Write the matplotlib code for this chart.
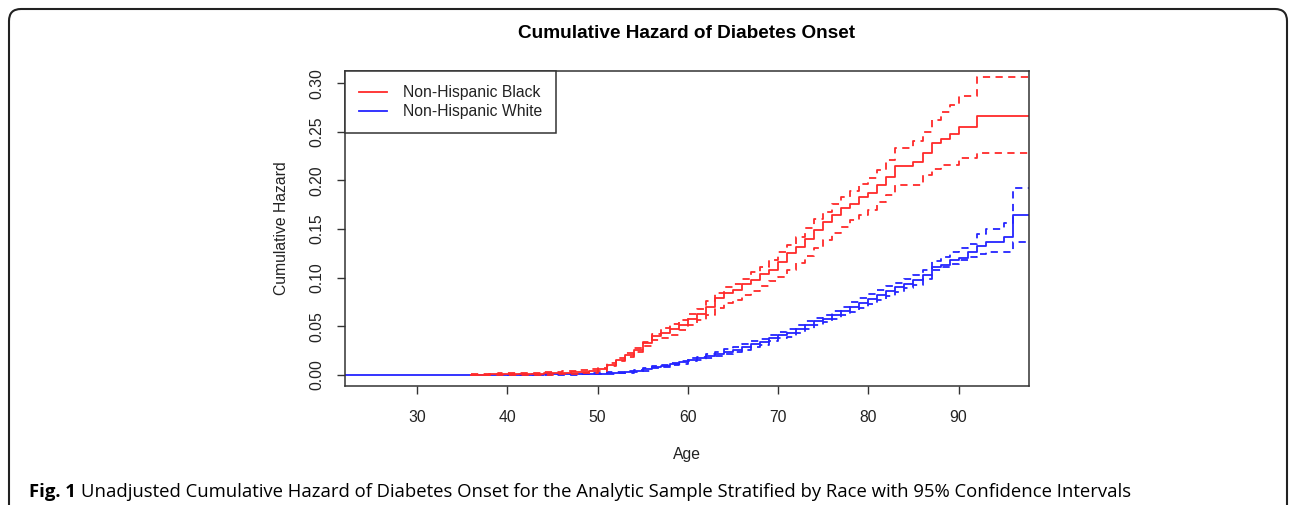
import matplotlib
matplotlib.use("Agg")
import matplotlib.pyplot as plt
from matplotlib.patches import FancyBboxPatch
from matplotlib.transforms import IdentityTransform

# cumulative hazard, one step per year of age
black_age = list(range(36, 93)) + [98]
black_haz = [0.0003, 0.0005, 0.0006, 0.0008, 0.001, 0.001, 0.0012, 0.0015, 0.0018,
             0.002, 0.0025, 0.003, 0.0035, 0.004, 0.006, 0.010, 0.015, 0.021, 0.026,
             0.033, 0.040, 0.043, 0.047, 0.051, 0.058, 0.063, 0.070, 0.079, 0.084,
             0.087, 0.094, 0.098, 0.104, 0.108, 0.116, 0.125, 0.132, 0.140, 0.149,
             0.157, 0.164, 0.172, 0.176, 0.183, 0.187, 0.195, 0.203, 0.215, 0.215,
             0.219, 0.228, 0.238, 0.243, 0.248, 0.255, 0.255, 0.266, 0.266]
black_hi = [0.001, 0.0012, 0.0014, 0.0016, 0.0018, 0.002, 0.0022, 0.0025, 0.003,
            0.0035, 0.004, 0.0045, 0.005, 0.006, 0.007, 0.012, 0.017, 0.023, 0.028,
            0.034, 0.042, 0.048, 0.052, 0.057, 0.063, 0.068, 0.076, 0.084, 0.090,
            0.094, 0.099, 0.106, 0.111, 0.118, 0.126, 0.134, 0.142, 0.151, 0.160,
            0.168, 0.176, 0.183, 0.189, 0.196, 0.202, 0.211, 0.221, 0.233, 0.233,
            0.240, 0.250, 0.262, 0.270, 0.277, 0.287, 0.287, 0.306, 0.306]
black_lo = [0.0, 0.0, 0.0, 0.0001, 0.0002, 0.0002, 0.0003, 0.0004, 0.0005,
            0.001, 0.0012, 0.0015, 0.002, 0.0025, 0.004, 0.009, 0.014, 0.019, 0.024,
            0.030, 0.036, 0.038, 0.041, 0.046, 0.051, 0.057, 0.062, 0.069, 0.074,
            0.077, 0.082, 0.086, 0.091, 0.097, 0.101, 0.108, 0.115, 0.122, 0.131,
            0.139, 0.146, 0.152, 0.159, 0.164, 0.170, 0.178, 0.185, 0.195, 0.195,
            0.195, 0.206, 0.212, 0.216, 0.216, 0.223, 0.223, 0.228, 0.228]

white_age = [20] + list(range(40, 97)) + [98]
white_haz = [0.0, 0.0002, 0.0003, 0.0004, 0.0005, 0.0006, 0.0007, 0.0008, 0.0009,
             0.001, 0.0012, 0.0015, 0.002, 0.0025, 0.003, 0.0044, 0.0058, 0.0079,
             0.0092, 0.0113, 0.013, 0.0154, 0.017, 0.0195, 0.0216, 0.024, 0.026,
             0.029, 0.032, 0.034, 0.038, 0.041, 0.043, 0.047, 0.051, 0.055, 0.058,
             0.062, 0.066, 0.070, 0.074, 0.078, 0.082, 0.086, 0.090, 0.094, 0.098,
             0.103, 0.111, 0.113, 0.118, 0.120, 0.126, 0.133, 0.137, 0.137, 0.1415,
             0.164, 0.164]
white_hi = [0.0, 0.0005, 0.0006, 0.0007, 0.0008, 0.0009, 0.001, 0.0012, 0.0013,
            0.0015, 0.0017, 0.002, 0.0027, 0.0033, 0.004, 0.0055, 0.007, 0.009,
            0.0105, 0.0125, 0.0145, 0.017, 0.019, 0.0215, 0.024, 0.0265, 0.0285,
            0.032, 0.035, 0.037, 0.041, 0.044, 0.047, 0.051, 0.055, 0.059, 0.062,
            0.066, 0.070, 0.075, 0.079, 0.083, 0.087, 0.091, 0.095, 0.099, 0.103,
            0.108, 0.117, 0.121, 0.126, 0.131, 0.135, 0.145, 0.150, 0.150, 0.156,
            0.192, 0.192]
white_lo = [0.0, 0.0, 0.0, 0.0001, 0.0002, 0.0003, 0.0004, 0.0004, 0.0005,
            0.0006, 0.0007, 0.001, 0.0013, 0.0017, 0.002, 0.0033, 0.0046, 0.0068,
            0.0079, 0.010, 0.0115, 0.014, 0.015, 0.0175, 0.0192, 0.0215, 0.0235,
            0.026, 0.029, 0.031, 0.035, 0.038, 0.039, 0.043, 0.047, 0.051, 0.054,
            0.058, 0.062, 0.065, 0.069, 0.073, 0.077, 0.081, 0.085, 0.089, 0.093,
            0.099, 0.108, 0.111, 0.114, 0.118, 0.121, 0.124, 0.126, 0.126, 0.126,
            0.137, 0.137]

x_ticks = [30, 40, 50, 60, 70, 80, 90]
y_ticks = [0.00, 0.05, 0.10, 0.15, 0.20, 0.25, 0.30]

W, H = 1292, 505
fig = plt.figure(figsize=(W / 100, H / 100), dpi=100)
fs = 11.3
font = "Liberation Sans"

ax = fig.add_axes([345 / W, 1 - 386 / H, (1029 - 345) / W, (386 - 71) / H])
red = "#ff2a2a"
blue = "#2424ff"
lw = 1.3

# blue first, red drawn on top of it near zero
ax.step(white_age, white_haz, where="post", color=blue, lw=lw)
ax.step(white_age[1:], white_hi[1:], where="post", color=blue, lw=lw, dashes=(4, 3))
ax.step(white_age[1:], white_lo[1:], where="post", color=blue, lw=lw, dashes=(4, 3))
ax.step(black_age, black_haz, where="post", color=red, lw=lw)
ax.step(black_age, black_hi, where="post", color=red, lw=lw, dashes=(4, 3))
ax.step(black_age, black_lo, where="post", color=red, lw=lw, dashes=(4, 3))

ax.set_xlim(22.0, 97.8)
ax.set_ylim(-0.0113, 0.3124)
ax.set_xticks(x_ticks)
ax.set_xticklabels([str(t) for t in x_ticks], fontsize=fs, family=font)
ax.set_yticks(y_ticks)
ax.set_yticklabels(["%.2f" % t for t in y_ticks], fontsize=fs, family=font,
                   rotation=90, va="center")
ax.tick_params(axis="x", length=6, width=1, pad=11, colors="#333333", labelcolor="#222222")
ax.tick_params(axis="y", length=6, width=1, pad=9, colors="#333333", labelcolor="#222222")
for s in ax.spines.values():
    s.set_color("#333333")
    s.set_linewidth(1.1)

h1, = ax.plot([], [], color=red, lw=lw)
h2, = ax.plot([], [], color=blue, lw=lw)
leg = ax.legend([h1, h2], ["Non-Hispanic Black", "Non-Hispanic White"],
                loc="upper left", bbox_to_anchor=(0, 1), borderaxespad=0,
                fancybox=False, edgecolor="#333333", framealpha=1,
                prop={"family": font, "size": fs}, handlelength=1.8,
                handletextpad=1.0, borderpad=0.9, labelspacing=0.25)
leg.get_frame().set_linewidth(1.1)
for t in leg.get_texts():
    t.set_color("#222222")

fig.text(687 / W, 1 - 33 / H, "Cumulative Hazard of Diabetes Onset", ha="center",
         va="center", fontsize=13.7, fontweight="bold", family=font)
fig.text(281 / W, 1 - 228.5 / H, "Cumulative Hazard", rotation=90, ha="center",
         va="center", fontsize=fs, family=font, color="#222222")
fig.text(687 / W, 1 - 455 / H, "Age", ha="center", va="center", fontsize=fs,
         family=font, color="#222222")

# caption below the plot
cap_y = 8 / H
t1 = fig.text(29 / W, cap_y, "Fig. 1", fontsize=13.3, fontweight="bold",
              family="Open Sans", va="baseline")
fig.canvas.draw()
bb = t1.get_window_extent(fig.canvas.get_renderer())
fig.text((bb.x1 + 5) / W, cap_y,
         "Unadjusted Cumulative Hazard of Diabetes Onset for the Analytic Sample "
         "Stratified by Race with 95% Confidence Intervals",
         fontsize=13.3, family="Open Sans", va="baseline")

# rounded journal frame, open at the bottom
frame = FancyBboxPatch((9, -30), 1278, H - 9 + 30, boxstyle="round,pad=0,rounding_size=12",
                       transform=IdentityTransform(), fill=False, edgecolor="#222222",
                       lw=1.5)
fig.add_artist(frame)

fig.savefig("out.png", dpi=100)
